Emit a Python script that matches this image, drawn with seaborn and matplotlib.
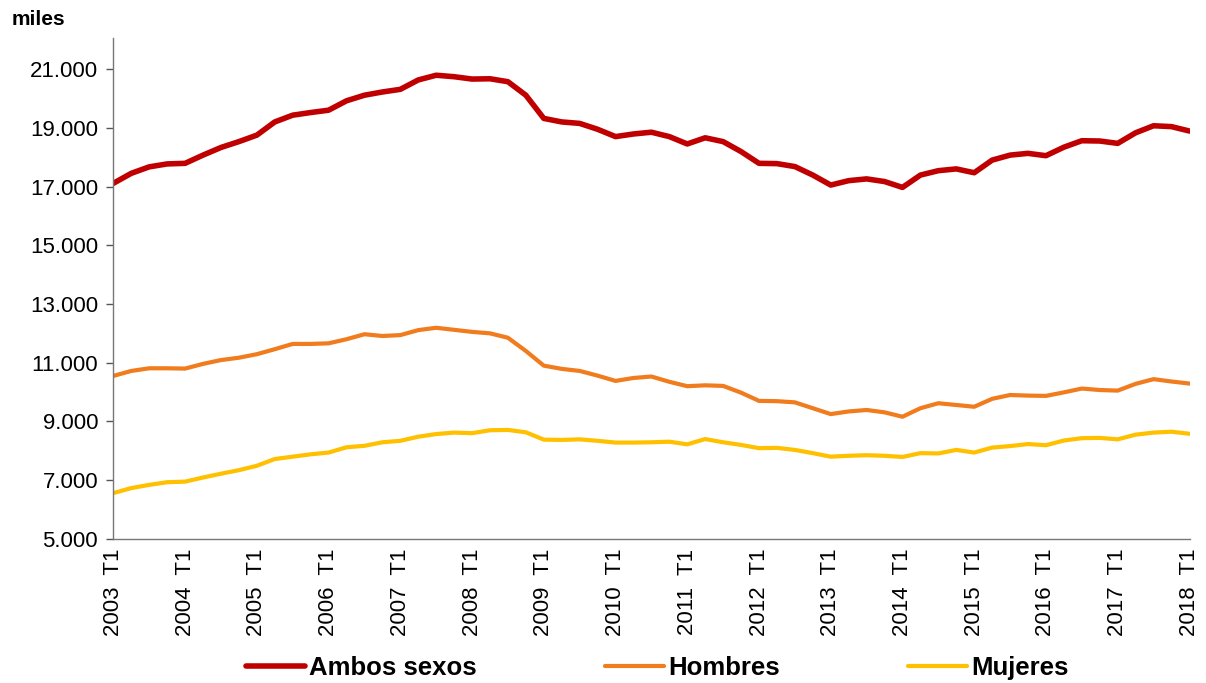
import numpy as np
import pandas as pd
import matplotlib
matplotlib.use("Agg")
import matplotlib.pyplot as plt
import seaborn as sns

# quarterly series 2003 T1 .. 2018 T1 (miles)
years = list(range(2003, 2019))
quarters = [f"{y} T{q}" for y in years for q in range(1, 5)][:61]

ambos = [17110, 17450, 17670, 17770, 17790, 18070, 18330, 18530, 18750, 19200,
         19430, 19520, 19600, 19920, 20110, 20220, 20310, 20630, 20790, 20740,
         20660, 20670, 20570, 20110, 19320, 19200, 19150, 18950, 18700, 18790,
         18850, 18700, 18450, 18660, 18530, 18190, 17790, 17780, 17680, 17390,
         17050, 17200, 17260, 17170, 16970, 17390, 17540, 17600, 17470, 17900,
         18070, 18130, 18050, 18340, 18560, 18550, 18470, 18830, 19070, 19040,
         18890]
hombres = [10550, 10720, 10810, 10810, 10800, 10960, 11090, 11170, 11290, 11460,
           11640, 11640, 11660, 11800, 11970, 11910, 11940, 12110, 12190, 12120,
           12050, 12000, 11850, 11400, 10900, 10790, 10720, 10560, 10380, 10480,
           10530, 10350, 10200, 10230, 10210, 9980, 9700, 9690, 9650, 9450,
           9250, 9340, 9390, 9310, 9160, 9450, 9620, 9560, 9500, 9770,
           9900, 9880, 9870, 9990, 10120, 10070, 10050, 10280, 10440, 10360,
           10290]
mujeres = [6560, 6730, 6840, 6930, 6950, 7090, 7220, 7340, 7490, 7720,
           7800, 7880, 7940, 8120, 8170, 8290, 8340, 8480, 8570, 8620,
           8600, 8700, 8710, 8630, 8380, 8370, 8390, 8340, 8280, 8280,
           8290, 8310, 8220, 8400, 8290, 8200, 8090, 8100, 8030, 7920,
           7800, 7830, 7850, 7830, 7790, 7920, 7910, 8030, 7940, 8110,
           8160, 8230, 8190, 8350, 8430, 8440, 8390, 8550, 8620, 8650,
           8580]

series = ["Ambos sexos", "Hombres", "Mujeres"]
colors = {"Ambos sexos": "#C00000", "Hombres": "#F07C1E", "Mujeres": "#FFC000"}
widths = {"Ambos sexos": 4.0, "Hombres": 3.0, "Mujeres": 3.0}

n = len(quarters)
df = pd.DataFrame({
    "t": list(range(n)) * 3,
    "valor": ambos + hombres + mujeres,
    "serie": [s for s in series for _ in range(n)],
})

sns.set_style("white")
plt.rcParams["font.family"] = ["Liberation Sans", "DejaVu Sans"]
plt.rcParams["text.color"] = "black"

fig, ax = plt.subplots(figsize=(12.06, 6.83), dpi=100)
fig.subplots_adjust(left=0.094, right=0.987, top=0.944, bottom=0.211)

sns.lineplot(data=df, x="t", y="valor", hue="serie", palette=colors, ax=ax,
             legend=False)
for line, s in zip(ax.lines, series):
    line.set_linewidth(widths[s])
    line.set_solid_joinstyle("round")

ax.set_xlim(0, n - 1 + 0.05)
ax.set_ylim(5000, 22050)
ax.set_yticks(range(5000, 22000, 2000))
ax.set_yticklabels([f"{v:,}".replace(",", ".") for v in range(5000, 22000, 2000)],
                   fontsize=16)
xt = list(range(0, n, 4))
ax.set_xticks(xt)
ax.set_xticklabels([quarters[i].replace(" ", "  ") for i in xt], rotation=90,
                   fontsize=16)
ax.tick_params(axis="y", length=5, width=1, color="#555555", direction="out",
               left=True, pad=6, labelcolor="black")
ax.tick_params(axis="x", length=0, pad=7, labelcolor="black")
ax.set_xlabel("")
ax.set_ylabel("")
sns.despine(ax=ax)
for sp in ["left", "bottom"]:
    ax.spines[sp].set_color("#777777")
    ax.spines[sp].set_linewidth(1)

fig.text(0.01, 0.972, "miles", fontsize=15, fontweight="bold", va="center",
         color="black")

handles = [plt.Line2D([], [], color=colors[s], lw=widths[s]) for s in series]
leg = fig.legend(handles, series, loc="center", bbox_to_anchor=(0.545, 0.022),
                 ncol=3, frameon=False, handlelength=2.3, handletextpad=0.15,
                 columnspacing=5.0, prop={"size": 18.5, "weight": "bold"})
for txt in leg.get_texts():
    txt.set_color("black")

fig.savefig("out.png", dpi=100)
